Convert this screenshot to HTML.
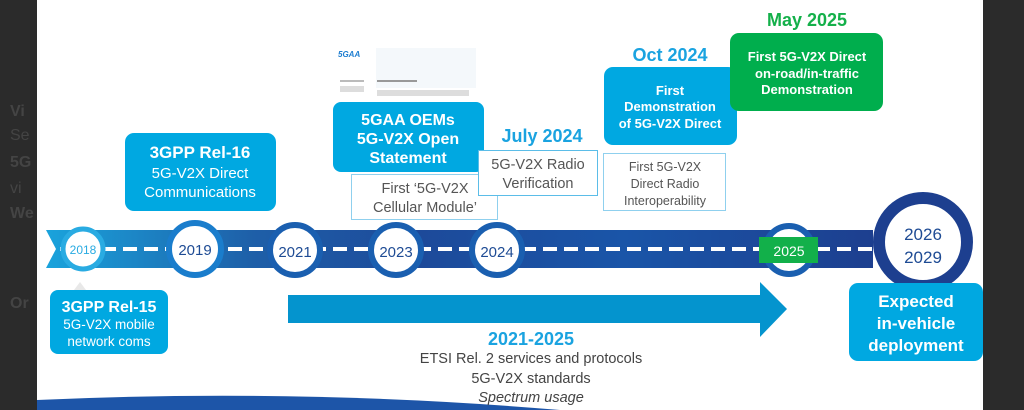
<!DOCTYPE html>
<html><head><meta charset="utf-8"><style>
html,body{margin:0;padding:0;background:#2a2a2a;}
svg{display:block;font-family:"Liberation Sans","DejaVu Sans",sans-serif;}
</style></head><body>
<svg width="1024" height="410" viewBox="0 0 1024 410" xmlns="http://www.w3.org/2000/svg">
<defs>
<linearGradient id="band" x1="0" x2="1" y1="0" y2="0">
<stop offset="0" stop-color="#1aa3dc"/><stop offset="0.25" stop-color="#1e5fa8"/><stop offset="0.45" stop-color="#1d4a9a"/><stop offset="0.7" stop-color="#1a55a8"/><stop offset="1" stop-color="#1d3f8f"/>
</linearGradient>
</defs>
<rect x="0" y="0" width="37" height="410" fill="#2b2b2b"/>
<rect x="983" y="0" width="41" height="410" fill="#2b2b2b"/>
<g fill="#444" font-size="16" font-weight="bold"><text x="10" y="116">Vi</text><text x="10" y="140" font-weight="normal">Se</text><text x="10" y="167">5G</text><text x="10" y="193" font-weight="normal">vi</text><text x="10" y="218">We</text><text x="10" y="308">Or</text></g>
<rect x="37" y="0" width="946" height="410" fill="#fff"/>
<path d="M37 400 Q300 388 560 410 L37 410Z" fill="#1d55a8"/>
<!-- band -->
<polygon points="46,230 873,230 873,268 46,268 56,249" fill="url(#band)"/>
<line x1="60" y1="249" x2="875" y2="249" stroke="#fff" stroke-width="4" stroke-dasharray="14,7"/>
<!-- circles -->
<circle cx="83" cy="249" r="20" fill="#fff" stroke="#29abe2" stroke-width="5"/>
<text x="83" y="254" font-size="12" fill="#29abe2" text-anchor="middle">2018</text>
<circle cx="195" cy="249" r="26" fill="#fff" stroke="#1a7dcc" stroke-width="6"/>
<text x="195" y="255" font-size="15" fill="#1e4b94" text-anchor="middle">2019</text>
<circle cx="295" cy="250" r="25" fill="#fff" stroke="#1a5fb0" stroke-width="6"/>
<text x="295" y="257" font-size="15" fill="#1e4b94" text-anchor="middle">2021</text>
<circle cx="396" cy="250" r="25" fill="#fff" stroke="#1a5fb0" stroke-width="6"/>
<text x="396" y="257" font-size="15" fill="#1e4b94" text-anchor="middle">2023</text>
<circle cx="497" cy="250" r="25" fill="#fff" stroke="#1a5fb0" stroke-width="6"/>
<text x="497" y="257" font-size="15" fill="#1e4b94" text-anchor="middle">2024</text>
<circle cx="789" cy="250" r="24" fill="#fff" stroke="#1a5fb0" stroke-width="6"/>
<rect x="759" y="237" width="59" height="26" fill="#12b04a"/>
<text x="789" y="256" font-size="14" fill="#fff" text-anchor="middle">2025</text>
<circle cx="923" cy="242" r="44" fill="#fff" stroke="#1d3f8f" stroke-width="12"/>
<text x="923" y="240" font-size="17" fill="#1e4b94" text-anchor="middle">2026</text>
<text x="923" y="263" font-size="17" fill="#1e4b94" text-anchor="middle">2029</text>
<!-- Rel-16 -->
<rect x="125" y="133" width="151" height="78" rx="9" fill="#00a8e1"/>
<text x="200" y="158" font-size="17" font-weight="bold" fill="#fff" text-anchor="middle">3GPP Rel-16</text>
<text x="200" y="178" font-size="15" fill="#fff" text-anchor="middle">5G-V2X Direct</text>
<text x="200" y="197" font-size="15" fill="#fff" text-anchor="middle">Communications</text>
<!-- Rel-15 -->
<polygon points="80,282 74,290 86,290" fill="#e8e8e8"/>
<rect x="50" y="290" width="118" height="64" rx="8" fill="#00a8e1"/>
<text x="109" y="312" font-size="16" font-weight="bold" fill="#fff" text-anchor="middle">3GPP Rel-15</text>
<text x="109" y="329" font-size="13.5" fill="#fff" text-anchor="middle">5G-V2X mobile</text>
<text x="109" y="346" font-size="13.5" fill="#fff" text-anchor="middle">network coms</text>
<!-- 5GAA doc -->
<text x="338" y="57" font-size="8" font-weight="bold" font-style="italic" fill="#1d7dd0">5GAA</text>
<rect x="376" y="48" width="100" height="40" fill="#f4f8fb"/>
<rect x="340" y="80" width="24" height="2" fill="#bbb"/><rect x="377" y="80" width="40" height="2" fill="#999"/>
<rect x="340" y="86" width="24" height="6" fill="#ddd"/><rect x="377" y="90" width="92" height="6" fill="#ddd"/>
<!-- 5GAA OEMs -->
<rect x="333" y="102" width="151" height="70" rx="8" fill="#00a8e1"/>
<text x="408" y="125" font-size="16" font-weight="bold" fill="#fff" text-anchor="middle">5GAA OEMs</text>
<text x="408" y="144" font-size="16" font-weight="bold" fill="#fff" text-anchor="middle">5G-V2X Open</text>
<text x="408" y="163" font-size="16" font-weight="bold" fill="#fff" text-anchor="middle">Statement</text>
<rect x="351.5" y="174.5" width="146" height="45" fill="#fff" stroke="#8fd0ee"/>
<text x="425" y="193" font-size="14.5" fill="#555" text-anchor="middle">First ‘5G-V2X</text>
<text x="425" y="212" font-size="14.5" fill="#555" text-anchor="middle">Cellular Module’</text>
<!-- July 2024 -->
<text x="542" y="142" font-size="18" font-weight="bold" fill="#1aa3e0" text-anchor="middle">July 2024</text>
<rect x="478.5" y="150.5" width="119" height="45" fill="#fff" stroke="#5bbde8"/>
<text x="538" y="169" font-size="14.5" fill="#555" text-anchor="middle">5G-V2X Radio</text>
<text x="538" y="188" font-size="14.5" fill="#555" text-anchor="middle">Verification</text>
<!-- Oct 2024 -->
<text x="670" y="61" font-size="18" font-weight="bold" fill="#1aa3e0" text-anchor="middle">Oct 2024</text>
<rect x="604" y="67" width="133" height="78" rx="9" fill="#00a8e1"/>
<text x="670" y="95" font-size="13" font-weight="bold" fill="#fff" text-anchor="middle">First</text>
<text x="670" y="111" font-size="13" font-weight="bold" fill="#fff" text-anchor="middle">Demonstration</text>
<text x="670" y="128" font-size="13" font-weight="bold" fill="#fff" text-anchor="middle">of 5G-V2X Direct</text>
<rect x="603.5" y="153.5" width="122" height="57" fill="#fff" stroke="#8fd0ee"/>
<text x="665" y="171" font-size="12.5" fill="#555" text-anchor="middle">First 5G-V2X</text>
<text x="665" y="188" font-size="12.5" fill="#555" text-anchor="middle">Direct Radio</text>
<text x="665" y="205" font-size="12.5" fill="#555" text-anchor="middle">Interoperability</text>
<!-- May 2025 -->
<text x="807" y="26" font-size="18" font-weight="bold" fill="#14b04a" text-anchor="middle">May 2025</text>
<rect x="730" y="33" width="153" height="78" rx="9" fill="#00ae4d"/>
<text x="807" y="61" font-size="13" font-weight="bold" fill="#fff" text-anchor="middle">First 5G-V2X Direct</text>
<text x="807" y="78" font-size="13" font-weight="bold" fill="#fff" text-anchor="middle">on-road/in-traffic</text>
<text x="807" y="94" font-size="13" font-weight="bold" fill="#fff" text-anchor="middle">Demonstration</text>
<!-- arrow -->
<polygon points="288,295 760,295 760,282 787,309 760,337 760,323 288,323" fill="#0494ce"/>
<text x="531" y="345" font-size="18" font-weight="bold" fill="#1aa3e0" text-anchor="middle">2021-2025</text>
<text x="531" y="363" font-size="14.5" fill="#444" text-anchor="middle">ETSI Rel. 2 services and protocols</text>
<text x="531" y="383" font-size="14.5" fill="#444" text-anchor="middle">5G-V2X standards</text>
<text x="531" y="402" font-size="14.5" font-style="italic" fill="#444" text-anchor="middle">Spectrum usage</text>
<!-- Expected -->
<rect x="849" y="283" width="134" height="78" rx="9" fill="#00a8e1"/>
<text x="916" y="307" font-size="17" font-weight="bold" fill="#fff" text-anchor="middle">Expected</text>
<text x="916" y="329" font-size="17" font-weight="bold" fill="#fff" text-anchor="middle">in-vehicle</text>
<text x="916" y="351" font-size="17" font-weight="bold" fill="#fff" text-anchor="middle">deployment</text>
</svg>
</body></html>
